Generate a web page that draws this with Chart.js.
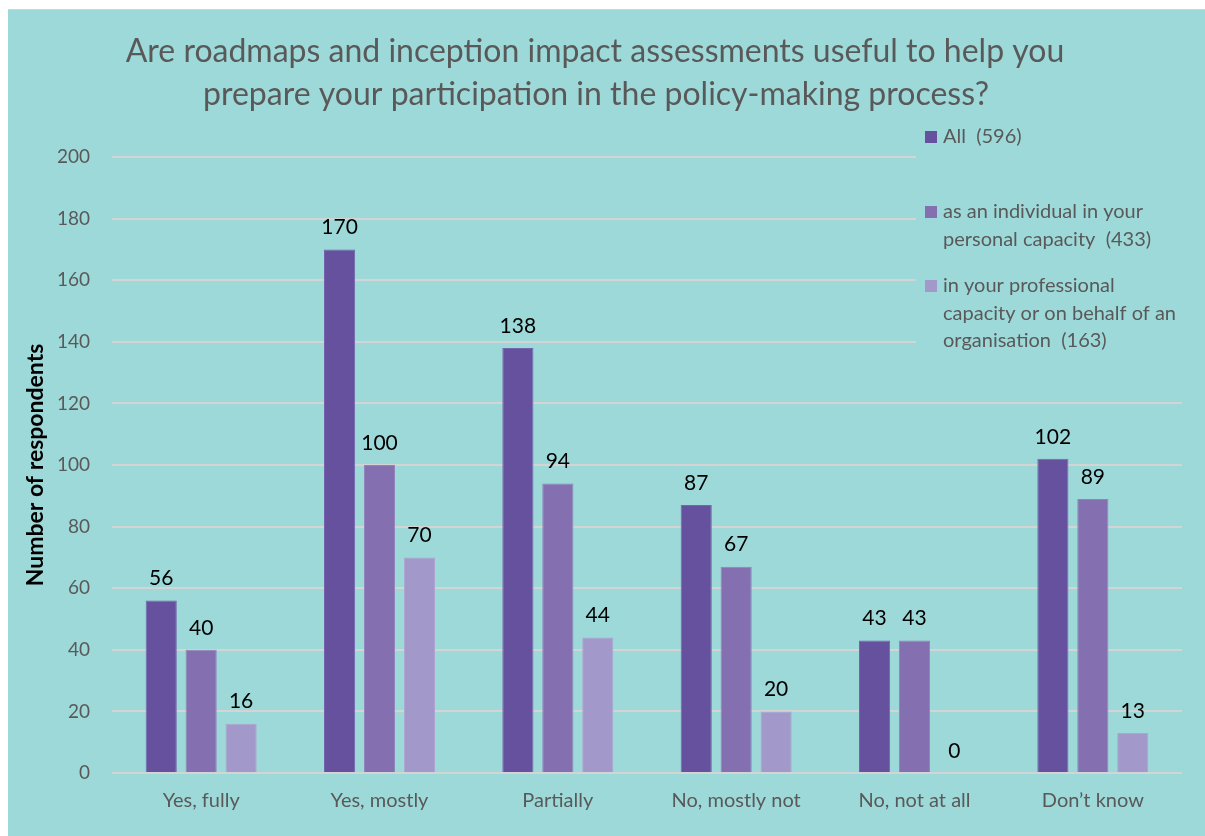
<!DOCTYPE html>
<html>
<head>
<meta charset="utf-8">
<script src="https://cdn.jsdelivr.net/npm/chart.js@4/dist/chart.umd.min.js"></script>
<style>
  html, body { margin: 0; padding: 0; background: #ffffff; width: 1205px; height: 836px; overflow: hidden; }
  #wrap { position: absolute; left: 8px; top: 9px; width: 1197px; height: 827px; background: #9ED9D9; border-top: 1px solid #d4d4d4; }
  canvas { display: block; }
</style>
</head>
<body>
<div id="wrap"><canvas id="c" width="1197" height="826"></canvas></div>
<script>
const titleLines = ["Are roadmaps and inception impact assessments useful to help you", "prepare your participation in the policy-making process?"];
const categories = ["Yes, fully", "Yes, mostly", "Partially", "No, mostly not", "No, not at all", "Don\u2019t know"];
const allValues = [56, 170, 138, 87, 43, 102];
const individualValues = [40, 100, 94, 67, 43, 89];
const professionalValues = [16, 70, 44, 20, 0, 13];
const seriesLabels = [
  ["All  (596)"],
  ["as an individual in your", "personal capacity  (433)"],
  ["in your professional", "capacity or on behalf of an", "organisation  (163)"]
];
const yAxisTitle = "Number of respondents";
const yTicks = [0, 20, 40, 60, 80, 100, 120, 140, 160, 180, 200];

const colors = ["#65519E", "#8470B0", "#A398CA"];
const borders = ["#7466AE", "#9082BA", "#AEA4D0"];
const FONT = "Lato, 'Open Sans', sans-serif";
const TXT = "#595959";
const BG = "#9ED9D9";

const titlePlugin = {
  id: "titleP",
  afterDraw(chart) {
    const ctx = chart.ctx;
    ctx.save();
    ctx.fillStyle = TXT;
    ctx.font = "32px " + FONT;
    ctx.textAlign = "center";
    ctx.textBaseline = "middle";
    ctx.fillText(titleLines[0], 587, 42);
    ctx.fillText(titleLines[1], 588, 85);
    // y axis title
    ctx.translate(28, (chart.chartArea.top + chart.chartArea.bottom) / 2);
    ctx.rotate(-Math.PI / 2);
    ctx.fillStyle = "#000000";
    ctx.font = "bold 23px " + FONT;
    ctx.fillText(yAxisTitle, 0, 0);
    ctx.restore();
  }
};

const labelPlugin = {
  id: "labelsP",
  afterDatasetsDraw(chart) {
    const ctx = chart.ctx;
    ctx.save();
    ctx.fillStyle = "#000000";
    ctx.font = "21px " + FONT;
    ctx.textAlign = "center";
    ctx.textBaseline = "middle";
    chart.data.datasets.forEach((ds, i) => {
      const meta = chart.getDatasetMeta(i);
      meta.data.forEach((el, j) => {
        ctx.fillText(String(ds.data[j]), el.x, el.y - 22);
      });
    });
    ctx.restore();
  }
};

const legendPlugin = {
  id: "legendP",
  afterDraw(chart) {
    const ctx = chart.ctx;
    ctx.save();
    ctx.fillStyle = BG;
    ctx.fillRect(908, 105, 270, 245);
    ctx.font = "20px " + FONT;
    ctx.textBaseline = "middle";
    ctx.textAlign = "left";
    const starts = [127, 202, 276];
    seriesLabels.forEach((lines, i) => {
      const y0 = starts[i];
      ctx.fillStyle = colors[i];
      ctx.fillRect(917, y0 - 6, 12, 12);
      ctx.fillStyle = TXT;
      lines.forEach((ln, k) => {
        ctx.fillText(ln, 935, y0 + k * 27.5);
      });
    });
    ctx.restore();
  }
};

const ctx = document.getElementById("c").getContext("2d");
new Chart(ctx, {
  type: "bar",
  data: {
    labels: categories,
    datasets: [
      { label: seriesLabels[0].join(" "), data: allValues, backgroundColor: colors[0], borderColor: borders[0], borderWidth: 1 },
      { label: seriesLabels[1].join(" "), data: individualValues, backgroundColor: colors[1], borderColor: borders[1], borderWidth: 1 },
      { label: seriesLabels[2].join(" "), data: professionalValues, backgroundColor: colors[2], borderColor: borders[2], borderWidth: 1 }
    ]
  },
  options: {
    responsive: false,
    animation: false,
    devicePixelRatio: 1,
    categoryPercentage: 0.672,
    barPercentage: 0.78,
    layout: { padding: { left: 0, right: 23, top: 147, bottom: 0 } },
    plugins: {
      legend: { display: false },
      title: { display: false },
      tooltip: { enabled: false }
    },
    scales: {
      x: {
        grid: { display: false, drawTicks: false },
        border: { display: false },
        ticks: { color: TXT, font: { family: FONT, size: 20 }, padding: 16, maxRotation: 0 },
        afterFit(scale) { scale.height = 63; }
      },
      y: {
        min: 0,
        max: 200,
        afterBuildTicks(scale) { scale.ticks = yTicks.map(v => ({ value: v })); },
        grid: { color: "#D4D4D4", lineWidth: 2, drawTicks: false },
        border: { display: false },
        ticks: { color: TXT, font: { family: FONT, size: 19 }, padding: 22 },
        afterFit(scale) { scale.width = 104; }
      }
    }
  },
  plugins: [titlePlugin, labelPlugin, legendPlugin]
});
</script>
</body>
</html>
